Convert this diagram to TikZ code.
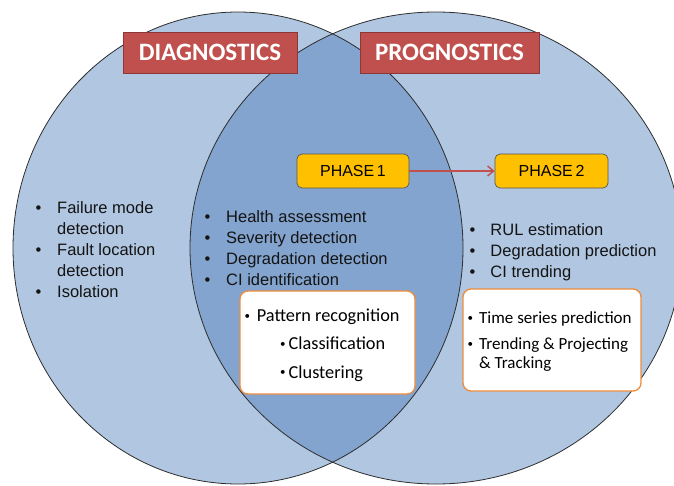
\documentclass[tikz,border=0pt]{standalone}
\usepackage{fontspec}
\setmainfont{Liberation Sans}
\newfontfamily\calib{Carlito}
\usetikzlibrary{arrows.meta}

\definecolor{vennlight}{RGB}{176,198,225}
\definecolor{venndark}{RGB}{131,164,206}
\definecolor{vennline}{RGB}{45,45,45}
\definecolor{titlered}{RGB}{192,80,77}
\definecolor{titleedge}{RGB}{140,56,54}
\definecolor{phasefill}{RGB}{255,192,0}
\definecolor{phaseedge}{RGB}{85,85,85}
\definecolor{boxedge}{RGB}{238,140,60}
\definecolor{arrowred}{RGB}{192,80,77}
\definecolor{bodytext}{RGB}{20,20,20}

% a small bullet for the boxed method lists
\newcommand\minibul{\raisebox{0.25ex}{\fontsize{11}{11}\selectfont\textbullet}}

\begin{document}
\begin{tikzpicture}[x=1pt,y=-1pt,
  titlebox/.style={draw=titleedge, fill=titlered, line width=0.9pt,
    minimum height=41pt, inner sep=0pt, text=white,
    font=\calib\bfseries\fontsize{25}{30}\selectfont},
  phasebox/.style={draw=phaseedge, fill=phasefill, line width=0.7pt,
    rounded corners=5pt, minimum width=112pt, minimum height=34pt,
    inner sep=0pt, text=black, font=\fontsize{16}{18}\selectfont},
  notebox/.style={draw=boxedge, fill=white, line width=1.3pt,
    rounded corners=8pt, inner sep=0pt},
  listtext/.style={anchor=north west, inner sep=0pt, text=bodytext,
    font=\fontsize{16.5}{21}\selectfont},
  vennedge/.style={draw=vennline, line width=0.8pt}]
\useasboundingbox (0,0) rectangle (674,485);
\clip (0,0) rectangle (674,485);

% the two overlapping domains
\fill[vennlight] (238,248) ellipse [x radius=225pt, y radius=236pt];
\fill[vennlight] (436,248) ellipse [x radius=246pt, y radius=236pt];
\begin{scope}
  \clip (238,248) ellipse [x radius=225pt, y radius=236pt];
  \fill[venndark] (436,248) ellipse [x radius=246pt, y radius=236pt];
\end{scope}
\draw[vennedge] (238,248) ellipse [x radius=225pt, y radius=236pt];
\draw[vennedge] (436,248) ellipse [x radius=246pt, y radius=236pt];

% headings
\node[titlebox, minimum width=174pt] (diag) at (210,52.5) {DIAGNOSTICS};
\node[titlebox, minimum width=179pt] (prog) at (449.5,52.5) {PROGNOSTICS};

% phases
\node[phasebox] (ph1) at (353,171) {PHASE\,1};
\node[phasebox, minimum width=113pt] (ph2) at (551.5,171) {PHASE\,2};
\draw[arrowred, line width=1.4pt, -{Straight Barb[length=6pt,width=10pt]}] (ph1) -- (ph2);

% bullet lists
\node[listtext] (diaglist) at (35.4,198.3) {%
  \begin{tabular}{@{}p{21.6pt}@{}l@{}}
  \textbullet & Failure mode\\
              & detection\\
  \textbullet & Fault location\\
              & detection\\
  \textbullet & Isolation
  \end{tabular}};
\node[listtext] (ph1list) at (204.4,208) {%
  \begin{tabular}{@{}p{21.6pt}@{}l@{}}
  \textbullet & Health assessment\\
  \textbullet & Severity detection\\
  \textbullet & Degradation detection\\
  \textbullet & CI identification
  \end{tabular}};
\node[listtext] (ph2list) at (469.4,220.3) {%
  \begin{tabular}{@{}p{20.9pt}@{}l@{}}
  \textbullet & RUL estimation\\
  \textbullet & Degradation prediction\\
  \textbullet & CI trending
  \end{tabular}};

% method boxes
\node[notebox, minimum width=175pt, minimum height=103pt] (pattbox) at (327.5,342.5) {};
\node[anchor=north west, inner sep=0pt, text=black,
      font=\calib\fontsize{18.3}{28.3}\selectfont] (patttext) at (244.5,301.5) {%
  \begin{tabular}{@{}l@{}}
  \makebox[12.2pt][l]{\minibul}Pattern recognition\\
  \hspace*{35.5pt}\makebox[8.5pt][l]{\minibul}Classification\\
  \hspace*{35.5pt}\makebox[8.5pt][l]{\minibul}Clustering
  \end{tabular}};

\node[notebox, minimum width=178pt, minimum height=102pt] (timebox) at (552,340) {};
\node[anchor=north west, inner sep=0pt, text=black,
      font=\calib\fontsize{17}{18.3}\selectfont] (timetext) at (467.5,310.2) {%
  \begin{tabular}{@{}l@{}}
  \makebox[11.5pt][l]{\minibul}Time series prediction\\[8.4pt]
  \makebox[11.5pt][l]{\minibul}Trending \& Projecting\\
  \hspace*{11.5pt}\& Tracking
  \end{tabular}};
\end{tikzpicture}
\end{document}
